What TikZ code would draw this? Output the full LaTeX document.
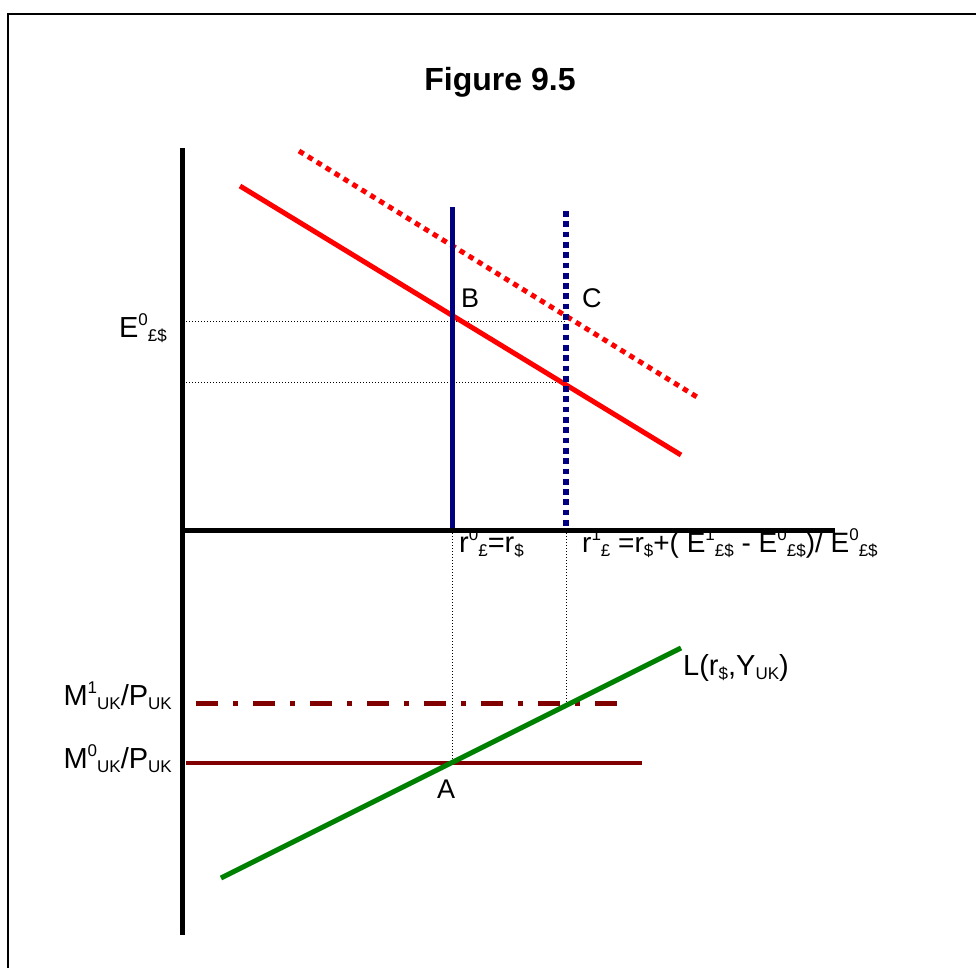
\documentclass[tikz,border=0pt]{standalone}
\usepackage{fontspec}
\setmainfont{Liberation Sans}
\newcommand{\sU}[1]{\raisebox{12pt}{\fontsize{17}{17}\selectfont #1}}
\newcommand{\sD}[1]{\raisebox{-4pt}{\fontsize{17}{17}\selectfont #1}}
\definecolor{navyb}{RGB}{0,0,128}
\definecolor{maroonm}{RGB}{128,0,0}
\definecolor{greenl}{RGB}{0,128,0}
\definecolor{redl}{RGB}{255,0,0}
\begin{document}
\begin{tikzpicture}[x=1pt,y=-1pt,
  lab/.style={font=\fontsize{29}{29}\selectfont, inner sep=0pt},
  ptlab/.style={font=\fontsize{27}{27}\selectfont, inner sep=0pt},
  axisline/.style={line width=5pt, black},
  guide/.style={line width=1pt, black, dash pattern=on 1pt off 2pt},
  curve/.style={line width=5pt, line cap=butt}]
\useasboundingbox (0,0) rectangle (976,967);
% frame
\draw[line width=2pt] (8,980) -- (8,14) -- (990,14);
% title
\node[inner sep=0pt, anchor=base, font=\fontsize{32}{32}\selectfont\bfseries] (title) at (500,90) {Figure 9.5};
% guides
\coordinate (gB) at (186,321);
\coordinate (B) at (452,321);
\coordinate (gC) at (186,382);
\coordinate (C2) at (566,321);
\coordinate (D) at (566,382);
\draw[guide] (gB) -- (C2);
\draw[guide] (gC) -- (D);
\coordinate (r0) at (452,533);
\coordinate (A) at (452,763);
\coordinate (r1) at (566,533);
\coordinate (M1pt) at (566,703);
\draw[guide] (r0) -- (A);
\draw[guide] (r1) -- (M1pt);
% red curves
\draw[curve, redl] (240,186) -- (681,455);
\draw[line width=5pt, redl, dash pattern=on 5.5pt off 5pt] (299,151) -- (697,397);
% blue verticals
\draw[curve, navyb] (452,207) -- (452,530);
\draw[line width=6pt, navyb, dash pattern=on 5.7pt off 4.6pt] (566,211) -- (566,530);
% money lines
\draw[line width=5pt, maroonm, dash pattern=on 22pt off 15pt on 5pt off 15pt] (196,703) -- (625,703);
\draw[line width=4pt, maroonm] (186,763) -- (642,763);
% green L
\draw[curve, greenl] (221,878) -- (681,648);
% axes
\draw[axisline] (182,148) -- (182,935);
\draw[axisline] (182,530) -- (835,530);
% labels
\node[lab, anchor=base east] (E0) at (167,337) {E\sU{0}\sD{£\$}};
\node[ptlab, anchor=base west] (Blab) at (461,307) {B};
\node[ptlab, anchor=base west] (Clab) at (582,307) {C};
\node[lab, anchor=base west] (r0lab) at (459,552) {r\sU{0}\sD{£}=r\sD{\$}};
\node[lab, anchor=base west, font=\fontsize{28}{28}\selectfont] (r1lab) at (582,552) {r\sU{1}\sD{£} =r\sD{\$}+( E\sU{1}\sD{£\$} - E\sU{0}\sD{£\$})/ E\sU{0}\sD{£\$}};
\node[lab, anchor=base east] (M1lab) at (172,705) {M\sU{1}\sD{UK}/P\sD{UK}};
\node[lab, anchor=base east] (M0lab) at (172,768) {M\sU{0}\sD{UK}/P\sD{UK}};
\node[lab, anchor=base west] (Llab) at (683,675) {L(r\sD{\$},Y\sD{UK})};
\node[ptlab, anchor=base] (Alab) at (446,798) {A};
\end{tikzpicture}
\end{document}
